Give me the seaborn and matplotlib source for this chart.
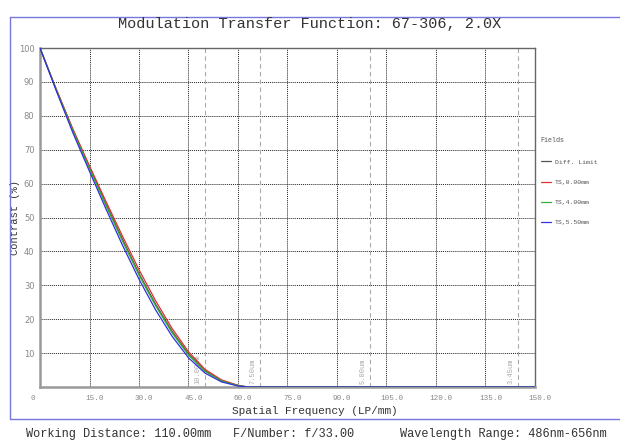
"""
MTF 곡선 재현: Modulation Transfer Function 67-306, 2.0X
"""

import numpy as np
import pandas as pd
import matplotlib
matplotlib.use("Agg")
import matplotlib.pyplot as plt
import matplotlib.transforms as mtransforms
import seaborn as sns

# ---- 데이터 ----
freq = [0, 5, 10, 15, 20, 25, 30, 35, 40, 45, 50, 55, 60, 63, 150]
diff_limit = [100, 87.6, 75.8, 64.8, 54.0, 43.6, 33.5, 24.5, 16.5, 9.8, 4.8, 1.9, 0.4, 0, 0]
ts_000 = [100, 87.7, 76.0, 65.2, 54.7, 44.5, 34.6, 25.5, 17.3, 10.4, 5.2, 2.1, 0.5, 0, 0]
ts_400 = [100, 87.5, 75.5, 64.4, 53.5, 43.0, 33.0, 24.0, 16.0, 9.4, 4.6, 1.8, 0.4, 0, 0]
ts_550 = [100, 87.2, 74.9, 63.6, 52.5, 41.8, 31.8, 22.8, 15.0, 8.6, 4.1, 1.5, 0.3, 0, 0]

series_names = ["Diff. Limit", "TS,0.00mm", "TS,4.00mm", "TS,5.50mm"]
series_colors = ["#555555", "#e03030", "#30b030", "#3030e0"]

# 픽셀 나이퀴스트 주파수
nyq_freq = [50.0, 66.7, 100.0, 144.9]
nyq_labels = ["10.00um", "7.50um", "5.00um", "3.45um"]

x_ticks = [0, 15, 30, 45, 60, 75, 90, 105, 120, 135, 150]
x_tick_labels = ["0", "15.0", "30.0", "45.0", "60.0", "75.0", "90.0",
                 "105.0", "120.0", "135.0", "150.0"]
y_ticks = [10, 20, 30, 40, 50, 60, 70, 80, 90, 100]

title = "Modulation Transfer Function: 67-306, 2.0X"
footer = ["Working Distance: 110.00mm", "F/Number: f/33.00",
          "Wavelength Range: 486nm-656nm"]

# long-form 테이블
rows = []
for name, vals in zip(series_names, [diff_limit, ts_000, ts_400, ts_550]):
    for f, v in zip(freq, vals):
        rows.append({"freq": f, "mtf": v, "field": name})
df = pd.DataFrame(rows)

sns.set_style("white")
plt.rcParams["font.family"] = ["Liberation Mono", "DejaVu Sans Mono"]
mono = "Liberation Mono"

fig = plt.figure(figsize=(6.2, 4.43), dpi=100)
ax = fig.add_axes([40 / 620, 1 - 387 / 443, 495 / 620, 339 / 443])

# 나이퀴스트 점선
for f, lab in zip(nyq_freq, nyq_labels):
    ax.axvline(f, color="#aaaaaa", linestyle=(0, (4, 3)), linewidth=0.8, zorder=1)
    ax.text(f - 1.0, 1.0, lab, rotation=90, ha="right", va="bottom",
            fontsize=5, color="#aaaaaa", family=mono)

sns.lineplot(data=df, x="freq", y="mtf", hue="field",
             palette=dict(zip(series_names, series_colors)),
             hue_order=series_names, linewidth=0.9, ax=ax, zorder=3,
             legend=True)

ax.set_xlim(0, 150)
ax.set_ylim(0, 100)
ax.set_xticks(x_ticks)
ax.set_xticklabels(x_tick_labels, family=mono, fontsize=5.5, color="#888888")
ax.set_yticks(y_ticks)
ax.set_yticklabels([str(v) for v in y_ticks], family="DejaVu Sans",
                   fontsize=6, color="#888888")
ax.tick_params(length=0, pad=4)

# x 눈금 라벨 위치 보정
for i, lab in enumerate(ax.get_xticklabels()):
    dx = -7 if i == 0 else 5
    lab.set_transform(lab.get_transform() +
                      mtransforms.ScaledTranslation(dx / 100, -2 / 100, fig.dpi_scale_trans))

ax.grid(True, color="#222222", linestyle=(0, (1, 1)), linewidth=0.7)
ax.set_axisbelow(True)
for side in ["left", "bottom"]:
    ax.spines[side].set_color("#999999")
    ax.spines[side].set_linewidth(1.8)
for side in ["top", "right"]:
    ax.spines[side].set_color("#666666")
    ax.spines[side].set_linewidth(1.0)

ax.set_xlabel("Spatial Frequency (LP/mm)", fontsize=8, family=mono, color="#333333")
ax.xaxis.set_label_coords((315 - 40) / 495, -19 / 339)
ax.set_ylabel("Contrast (%)", fontsize=7.5, family=mono, color="#333333")
ax.yaxis.set_label_coords((20 - 40) / 495, 0.5)

leg = ax.legend(title="Fields", loc="upper left", bbox_to_anchor=(1.0, 0.753),
                frameon=False, fontsize=4.6, title_fontsize=4.8,
                handlelength=1.6, handletextpad=0.6, labelspacing=2.3,
                alignment="left")
for t in leg.get_texts():
    t.set_color("#555555")
    t.set_family(mono)
leg.get_title().set_color("#555555")
leg.get_title().set_family(mono)

# 제목 및 하단 정보
fig.text(0.5, 1 - 24 / 443, title, ha="center", va="center",
         fontsize=11, family=mono, color="#333333")
fig.text(26 / 620, 1 - 434 / 443, footer[0], ha="left", va="center",
         fontsize=8.6, family=mono, color="#333333")
fig.text(233 / 620, 1 - 434 / 443, footer[1], ha="left", va="center",
         fontsize=8.6, family=mono, color="#333333")
fig.text(400 / 620, 1 - 434 / 443, footer[2], ha="left", va="center",
         fontsize=8.6, family=mono, color="#333333")

# 파란 테두리선
frame_color = "#7777dd"
fig.add_artist(plt.Line2D([10 / 620, 1], [1 - 17 / 443, 1 - 17 / 443],
                          color=frame_color, linewidth=1.0, transform=fig.transFigure))
fig.add_artist(plt.Line2D([10 / 620, 10 / 620], [1 - 17 / 443, 1 - 419 / 443],
                          color=frame_color, linewidth=1.0, transform=fig.transFigure))
fig.add_artist(plt.Line2D([10 / 620, 1], [1 - 419 / 443, 1 - 419 / 443],
                          color=frame_color, linewidth=1.0, transform=fig.transFigure))

fig.savefig("out.png", dpi=100)
plt.close(fig)
